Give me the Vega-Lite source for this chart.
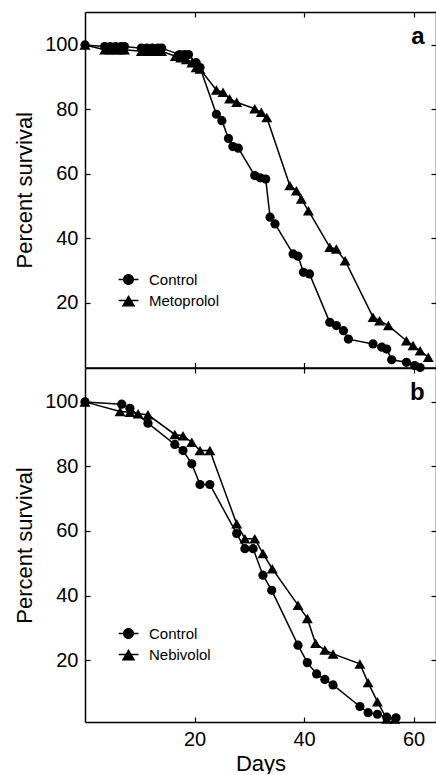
{
  "$schema": "https://vega.github.io/schema/vega-lite/v6.json",
  "background": "white",
  "autosize": {"type": "pad"},
  "padding": {"left": 13, "top": 11, "right": 0, "bottom": 0},
  "bounds": "flush",
  "spacing": 0,
  "config": {
    "view": {"stroke": null},
    "font": "Liberation Sans",
    "axis": {
      "grid": false,
      "domainColor": "black",
      "domainWidth": 1.5,
      "tickColor": "black",
      "tickWidth": 1.2,
      "tickSize": -5,
      "labelColor": "black",
      "labelFont": "Liberation Sans",
      "labelFontSize": 20,
      "titleColor": "black",
      "titleFont": "Liberation Sans",
      "titleFontSize": 22,
      "titleFontWeight": "normal"
    }
  },
  "datasets": {
    "top": [
      {"day": 0, "pct": 100, "series": "Control"},
      {"day": 3.6, "pct": 99.5, "series": "Control"},
      {"day": 4.6, "pct": 99.5, "series": "Control"},
      {"day": 5.6, "pct": 99.5, "series": "Control"},
      {"day": 6.6, "pct": 99.5, "series": "Control"},
      {"day": 7.2, "pct": 99.5, "series": "Control"},
      {"day": 10.3, "pct": 99, "series": "Control"},
      {"day": 11.3, "pct": 99, "series": "Control"},
      {"day": 12.3, "pct": 99, "series": "Control"},
      {"day": 13.3, "pct": 99, "series": "Control"},
      {"day": 14, "pct": 99, "series": "Control"},
      {"day": 17.3, "pct": 97, "series": "Control"},
      {"day": 18.2, "pct": 97, "series": "Control"},
      {"day": 18.9, "pct": 97, "series": "Control"},
      {"day": 20.3, "pct": 94.5, "series": "Control"},
      {"day": 21, "pct": 93, "series": "Control"},
      {"day": 24, "pct": 78.5, "series": "Control"},
      {"day": 25, "pct": 76.5, "series": "Control"},
      {"day": 26.2, "pct": 71, "series": "Control"},
      {"day": 27, "pct": 68.5, "series": "Control"},
      {"day": 28, "pct": 68, "series": "Control"},
      {"day": 31, "pct": 59.5, "series": "Control"},
      {"day": 32, "pct": 58.8, "series": "Control"},
      {"day": 33, "pct": 58.4, "series": "Control"},
      {"day": 33.8, "pct": 46.6, "series": "Control"},
      {"day": 34.7, "pct": 44.5, "series": "Control"},
      {"day": 38, "pct": 35.2, "series": "Control"},
      {"day": 38.9, "pct": 34.5, "series": "Control"},
      {"day": 39.9, "pct": 29.5, "series": "Control"},
      {"day": 41, "pct": 29, "series": "Control"},
      {"day": 44.7, "pct": 14, "series": "Control"},
      {"day": 45.9, "pct": 13, "series": "Control"},
      {"day": 47.2, "pct": 11.4, "series": "Control"},
      {"day": 48.1, "pct": 8.8, "series": "Control"},
      {"day": 52.6, "pct": 7.3, "series": "Control"},
      {"day": 54.2, "pct": 6.3, "series": "Control"},
      {"day": 55.1, "pct": 5.7, "series": "Control"},
      {"day": 56, "pct": 2.4, "series": "Control"},
      {"day": 58.7, "pct": 1.6, "series": "Control"},
      {"day": 60.2, "pct": 0.6, "series": "Control"},
      {"day": 61.2, "pct": 0, "series": "Control"},
      {"day": 0, "pct": 100, "series": "Metoprolol"},
      {"day": 3.6, "pct": 98.5, "series": "Metoprolol"},
      {"day": 4.6, "pct": 98.5, "series": "Metoprolol"},
      {"day": 5.6, "pct": 98.5, "series": "Metoprolol"},
      {"day": 6.6, "pct": 98.5, "series": "Metoprolol"},
      {"day": 7.2, "pct": 98.5, "series": "Metoprolol"},
      {"day": 10.3, "pct": 98, "series": "Metoprolol"},
      {"day": 11.3, "pct": 98, "series": "Metoprolol"},
      {"day": 12.3, "pct": 98, "series": "Metoprolol"},
      {"day": 13.3, "pct": 98, "series": "Metoprolol"},
      {"day": 14, "pct": 98, "series": "Metoprolol"},
      {"day": 16.5, "pct": 96.5, "series": "Metoprolol"},
      {"day": 17.5, "pct": 96, "series": "Metoprolol"},
      {"day": 18.5, "pct": 95.5, "series": "Metoprolol"},
      {"day": 19.5, "pct": 94.5, "series": "Metoprolol"},
      {"day": 20.3, "pct": 93, "series": "Metoprolol"},
      {"day": 21, "pct": 92.5, "series": "Metoprolol"},
      {"day": 24, "pct": 86, "series": "Metoprolol"},
      {"day": 25.2, "pct": 85.3, "series": "Metoprolol"},
      {"day": 26.4, "pct": 83.3, "series": "Metoprolol"},
      {"day": 27.7, "pct": 82.2, "series": "Metoprolol"},
      {"day": 31, "pct": 80.2, "series": "Metoprolol"},
      {"day": 32.2, "pct": 79.1, "series": "Metoprolol"},
      {"day": 33.2, "pct": 77.5, "series": "Metoprolol"},
      {"day": 37.4, "pct": 56.4, "series": "Metoprolol"},
      {"day": 38.6, "pct": 54.8, "series": "Metoprolol"},
      {"day": 39.5, "pct": 52.2, "series": "Metoprolol"},
      {"day": 40.8, "pct": 48.6, "series": "Metoprolol"},
      {"day": 44.7, "pct": 37.3, "series": "Metoprolol"},
      {"day": 45.9, "pct": 36.7, "series": "Metoprolol"},
      {"day": 47.5, "pct": 33.1, "series": "Metoprolol"},
      {"day": 52.6, "pct": 15.6, "series": "Metoprolol"},
      {"day": 53.8, "pct": 14.5, "series": "Metoprolol"},
      {"day": 55.4, "pct": 13, "series": "Metoprolol"},
      {"day": 58.7, "pct": 8.3, "series": "Metoprolol"},
      {"day": 59.9, "pct": 6.8, "series": "Metoprolol"},
      {"day": 61.2, "pct": 5.2, "series": "Metoprolol"},
      {"day": 62.7, "pct": 3.2, "series": "Metoprolol"}
    ],
    "bottom": [
      {"day": 0, "pct": 100, "series": "Control"},
      {"day": 6.7, "pct": 99.3, "series": "Control"},
      {"day": 8.2, "pct": 98, "series": "Control"},
      {"day": 11.5, "pct": 93.4, "series": "Control"},
      {"day": 16.4, "pct": 86.8, "series": "Control"},
      {"day": 17.9, "pct": 84.9, "series": "Control"},
      {"day": 19.5, "pct": 80.8, "series": "Control"},
      {"day": 21, "pct": 74.4, "series": "Control"},
      {"day": 22.8, "pct": 74.4, "series": "Control"},
      {"day": 27.7, "pct": 59.2, "series": "Control"},
      {"day": 29.2, "pct": 54.5, "series": "Control"},
      {"day": 30.7, "pct": 54.5, "series": "Control"},
      {"day": 32.5, "pct": 46.3, "series": "Control"},
      {"day": 34.1, "pct": 41.6, "series": "Control"},
      {"day": 38.9, "pct": 24.6, "series": "Control"},
      {"day": 40.6, "pct": 19.2, "series": "Control"},
      {"day": 42.3, "pct": 15.7, "series": "Control"},
      {"day": 43.8, "pct": 14, "series": "Control"},
      {"day": 45.3, "pct": 12.3, "series": "Control"},
      {"day": 50.2, "pct": 5.6, "series": "Control"},
      {"day": 51.7, "pct": 3.7, "series": "Control"},
      {"day": 53.4, "pct": 3.2, "series": "Control"},
      {"day": 55.1, "pct": 2.3, "series": "Control"},
      {"day": 56.8, "pct": 2.1, "series": "Control"},
      {"day": 0, "pct": 100, "series": "Nebivolol"},
      {"day": 6.4, "pct": 97, "series": "Nebivolol"},
      {"day": 8.2, "pct": 96.8, "series": "Nebivolol"},
      {"day": 9.7, "pct": 96.3, "series": "Nebivolol"},
      {"day": 11.5, "pct": 96, "series": "Nebivolol"},
      {"day": 16.4, "pct": 89.9, "series": "Nebivolol"},
      {"day": 17.9, "pct": 89.5, "series": "Nebivolol"},
      {"day": 19.5, "pct": 87.5, "series": "Nebivolol"},
      {"day": 21, "pct": 84.9, "series": "Nebivolol"},
      {"day": 22.8, "pct": 84.9, "series": "Nebivolol"},
      {"day": 27.7, "pct": 62.2, "series": "Nebivolol"},
      {"day": 29.2, "pct": 57.6, "series": "Nebivolol"},
      {"day": 31, "pct": 57.6, "series": "Nebivolol"},
      {"day": 32.5, "pct": 53, "series": "Nebivolol"},
      {"day": 34.2, "pct": 48.3, "series": "Nebivolol"},
      {"day": 38.9, "pct": 37, "series": "Nebivolol"},
      {"day": 40.6, "pct": 32.9, "series": "Nebivolol"},
      {"day": 42.1, "pct": 25.2, "series": "Nebivolol"},
      {"day": 43.8, "pct": 23.1, "series": "Nebivolol"},
      {"day": 45.3, "pct": 21.9, "series": "Nebivolol"},
      {"day": 50.2, "pct": 18.8, "series": "Nebivolol"},
      {"day": 51.7, "pct": 13, "series": "Nebivolol"},
      {"day": 53.4, "pct": 7.1, "series": "Nebivolol"},
      {"day": 55.1, "pct": 1.7, "series": "Nebivolol"},
      {"day": 56.6, "pct": 1.7, "series": "Nebivolol"}
    ]
  },
  "vconcat": [
    {
      "width": 351,
      "height": 355.5,
      "title": {"text": "a", "anchor": "end", "offset": -38, "dx": -12, "fontSize": 24, "fontWeight": "bold", "font": "Liberation Sans", "color": "black"},
      "layer": [
        {
          "data": {"name": "top"},
          "transform": [{"filter": "datum.series === 'Control'"}],
          "mark": {"type": "line", "color": "black", "strokeWidth": 1.5, "point": {"shape": "circle", "filled": true, "size": 85, "color": "black", "opacity": 1}},
          "encoding": {
            "x": {"field": "day", "type": "quantitative", "scale": {"domain": [0, 64.1], "nice": false, "zero": false},
                  "axis": {"orient": "bottom", "values": [20, 40, 60], "labels": false, "title": null}},
            "y": {"field": "pct", "type": "quantitative", "scale": {"domain": [0, 110.2], "nice": false},
                  "axis": {"orient": "left", "values": [20, 40, 60, 80, 100], "title": "Percent survival", "labelPadding": 12, "titlePadding": 8}}
          }
        },
        {
          "data": {"name": "top"},
          "transform": [{"filter": "datum.series === 'Metoprolol'"}],
          "mark": {"type": "line", "color": "black", "strokeWidth": 1.5, "point": {"shape": "triangle-up", "filled": true, "size": 120, "color": "black", "opacity": 1}},
          "encoding": {
            "x": {"field": "day", "type": "quantitative", "axis": {"orient": "top", "values": [20, 40, 60], "labels": false, "title": null}},
            "y": {"field": "pct", "type": "quantitative", "axis": {"orient": "right", "values": [20, 40, 60, 80, 100], "labels": false, "title": null}}
          }
        },
        {
          "data": {"name": "top"},
          "mark": {"type": "point", "filled": true, "color": "black", "opacity": 0},
          "encoding": {
            "x": {"field": "day", "type": "quantitative", "axis": null},
            "y": {"field": "pct", "type": "quantitative", "axis": null},
            "shape": {"field": "series", "type": "nominal",
                      "scale": {"domain": ["Control", "Metoprolol"], "range": ["M-1.8,-0.13H1.8V0.13H-1.8ZM1,0A1,1,0,1,1,-1,0A1,1,0,1,1,1,0Z", "M-1.8,-0.13H1.8V0.13H-1.8ZM0,-1L1.25,1.1H-1.25Z"]},
                      "legend": {"title": null, "orient": "none", "legendX": 36, "legendY": 260, "padding": 0, "symbolSize": 121, "symbolOpacity": 1, "labelFont": "Liberation Sans", "labelFontSize": 15, "labelColor": "black", "labelOffset": 13, "rowPadding": 4,
                                 "encode": {"symbols": {"update": {"fill": {"value": "black"}, "opacity": {"value": 1}}}}}}
          }
        }
      ],
      "resolve": {"axis": {"x": "independent", "y": "independent"}}
    },
    {
      "width": 351,
      "height": 354,
      "title": {"text": "b", "anchor": "end", "offset": -38, "dx": -12, "fontSize": 24, "fontWeight": "bold", "font": "Liberation Sans", "color": "black"},
      "layer": [
        {
          "data": {"name": "bottom"},
          "transform": [{"filter": "datum.series === 'Control'"}],
          "mark": {"type": "line", "color": "black", "strokeWidth": 1.5, "point": {"shape": "circle", "filled": true, "size": 85, "color": "black", "opacity": 1}},
          "encoding": {
            "x": {"field": "day", "type": "quantitative", "scale": {"domain": [0, 64.1], "nice": false, "zero": false},
                  "axis": {"orient": "bottom", "values": [20, 40, 60], "title": "Days", "labelPadding": 12, "titlePadding": 4}},
            "y": {"field": "pct", "type": "quantitative", "scale": {"domain": [0.8, 110.5], "nice": false, "zero": false},
                  "axis": {"orient": "left", "values": [20, 40, 60, 80, 100], "title": "Percent survival", "labelPadding": 12, "titlePadding": 8}}
          }
        },
        {
          "data": {"name": "bottom"},
          "transform": [{"filter": "datum.series === 'Nebivolol'"}],
          "mark": {"type": "line", "color": "black", "strokeWidth": 1.5, "point": {"shape": "triangle-up", "filled": true, "size": 120, "color": "black", "opacity": 1}},
          "encoding": {
            "x": {"field": "day", "type": "quantitative", "axis": {"orient": "top", "values": [20, 40, 60], "labels": false, "title": null}},
            "y": {"field": "pct", "type": "quantitative", "axis": {"orient": "right", "values": [20, 40, 60, 80, 100], "labels": false, "title": null}}
          }
        },
        {
          "data": {"name": "bottom"},
          "mark": {"type": "point", "filled": true, "color": "black", "opacity": 0},
          "encoding": {
            "x": {"field": "day", "type": "quantitative", "axis": null},
            "y": {"field": "pct", "type": "quantitative", "axis": null},
            "shape": {"field": "series", "type": "nominal",
                      "scale": {"domain": ["Control", "Nebivolol"], "range": ["M-1.8,-0.13H1.8V0.13H-1.8ZM1,0A1,1,0,1,1,-1,0A1,1,0,1,1,1,0Z", "M-1.8,-0.13H1.8V0.13H-1.8ZM0,-1L1.25,1.1H-1.25Z"]},
                      "legend": {"title": null, "orient": "none", "legendX": 36, "legendY": 258, "padding": 0, "symbolSize": 121, "symbolOpacity": 1, "labelFont": "Liberation Sans", "labelFontSize": 15, "labelColor": "black", "labelOffset": 13, "rowPadding": 4,
                                 "encode": {"symbols": {"update": {"fill": {"value": "black"}, "opacity": {"value": 1}}}}}}
          }
        }
      ],
      "resolve": {"axis": {"x": "independent", "y": "independent"}}
    }
  ],
  "resolve": {"scale": {"x": "independent", "y": "independent", "shape": "independent"}, "legend": {"shape": "independent"}}
}
